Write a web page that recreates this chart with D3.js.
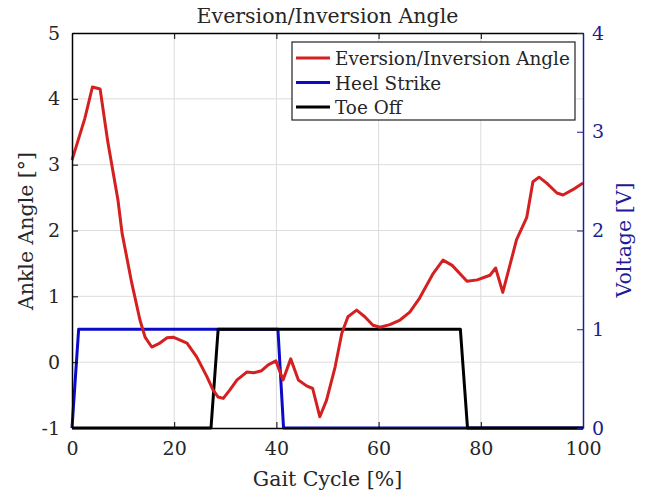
<!DOCTYPE html>
<html>
<head>
<meta charset="utf-8">
<script src="https://cdn.jsdelivr.net/npm/d3@7"></script>
<style>
  body { margin: 0; background: #fff; }
  svg text { font-family: "DejaVu Serif", serif; }
</style>
</head>
<body>
<div id="chart"></div>
<script>
// Gait cycle (%) and ankle eversion/inversion angle (deg)
const angleX = [0, 0.8, 2.5, 4, 5.5, 7, 9, 9.8, 11.7, 13.3, 14.3, 15.6, 17.2, 18.6, 19.8, 22.5, 24.4, 26.4, 27.6, 28.6, 29.6,
  30.9, 32.3, 34.2, 35.6, 37.1, 38.4, 39.9, 41.3, 42.8, 44.3, 45.9, 47.1, 48.5, 49.8, 51.5, 52.8, 54, 55.7, 57.3, 58.9, 60.3,
  62.2, 64.2, 66.1, 68, 70.7, 72.6, 74.4, 77.3, 79.3, 81.8, 82.9, 84.3, 87, 89, 90.2, 91.4, 92.9, 94.9, 96.1, 98, 100];
const angleY = [3.07, 3.27, 3.7, 4.18, 4.15, 3.35, 2.46, 1.96, 1.2, 0.64, 0.38, 0.23, 0.29, 0.37, 0.38, 0.29, 0.08, -0.22, -0.42, -0.53, -0.55,
  -0.42, -0.27, -0.15, -0.16, -0.13, -0.04, 0.02, -0.27, 0.05, -0.27, -0.36, -0.4, -0.83, -0.58, -0.07, 0.44, 0.69, 0.79, 0.69, 0.56, 0.53,
  0.57, 0.64, 0.76, 0.97, 1.35, 1.55, 1.47, 1.23, 1.25, 1.32, 1.43, 1.06, 1.86, 2.2, 2.74, 2.81, 2.72, 2.57, 2.54, 2.62, 2.72];

// Heel strike and toe off signals (V)
const heelX = [0, 1.3, 40.3, 41.4, 100];
const heelY = [0, 1, 1, 0, 0];
const toeX = [0, 27.2, 28.6, 76, 77.4, 100];
const toeY = [0, 0, 1, 1, 0, 0];

const xTicks = [0, 20, 40, 60, 80, 100];
const yTicks = [-1, 0, 1, 2, 3, 4, 5];
const vTicks = [0, 1, 2, 3, 4];

const legendLabels = ["Eversion/Inversion Angle", "Heel Strike", "Toe Off"];

const red = "#d42020", blue = "#0a0ac8", black = "#000", navy = "#1c1c96", ink = "#262626";

const W = 654, H = 497;
const margin = { top: 33, right: 71, bottom: 69, left: 72 };
const width = W - margin.left - margin.right;
const height = H - margin.top - margin.bottom;

const svg = d3.select("#chart").append("svg")
  .attr("width", W).attr("height", H);
const g = svg.append("g").attr("transform", `translate(${margin.left},${margin.top})`);

const x = d3.scaleLinear().domain([0, 100]).range([0, width]);
const y = d3.scaleLinear().domain([-1, 5]).range([height, 0]);
const yv = d3.scaleLinear().domain([0, 4]).range([height, 0]);

// grid
g.append("g").selectAll("line").data(xTicks.slice(1, -1)).join("line")
  .attr("x1", d => x(d)).attr("x2", d => x(d)).attr("y1", 0).attr("y2", height)
  .attr("stroke", "#dcdcdc").attr("stroke-width", 1);
g.append("g").selectAll("line").data(yTicks.slice(1, -1)).join("line")
  .attr("y1", d => y(d)).attr("y2", d => y(d)).attr("x1", 0).attr("x2", width)
  .attr("stroke", "#dcdcdc").attr("stroke-width", 1);

const line = (xs, ys, sy) => d3.line().x((d, i) => x(xs[i])).y(d => sy(d))(ys);

// signals
g.append("path").attr("d", line(heelX, heelY, yv)).attr("fill", "none")
  .attr("stroke", blue).attr("stroke-width", 3).attr("stroke-linejoin", "round");
g.append("path").attr("d", line(toeX, toeY, yv)).attr("fill", "none")
  .attr("stroke", black).attr("stroke-width", 3).attr("stroke-linejoin", "round");
// angle
g.append("path").attr("d", line(angleX, angleY, y)).attr("fill", "none")
  .attr("stroke", red).attr("stroke-width", 3).attr("stroke-linejoin", "round");

// axes
const fs = "19px";
const fmt = d => String(d);
const xAxis = g.append("g").attr("transform", `translate(0,${height})`)
  .call(d3.axisBottom(x).tickValues(xTicks).tickFormat(fmt).tickSizeInner(-6).tickSizeOuter(0).tickPadding(14));
const xTop = g.append("g")
  .call(d3.axisTop(x).tickValues(xTicks).tickSizeInner(-6).tickSizeOuter(0).tickFormat(""));
const yAxis = g.append("g")
  .call(d3.axisLeft(y).tickValues(yTicks).tickFormat(fmt).tickSizeInner(-6).tickSizeOuter(0).tickPadding(12));
const vAxis = g.append("g").attr("transform", `translate(${width},0)`)
  .call(d3.axisRight(yv).tickValues(vTicks).tickFormat(fmt).tickSizeInner(-6).tickSizeOuter(0).tickPadding(9));

[xAxis, xTop, yAxis, vAxis].forEach(a => a.attr("font-family", null));
[xAxis, xTop, yAxis].forEach(a => {
  a.selectAll("path").attr("stroke", black).attr("stroke-width", 1.5);
  a.selectAll("line").attr("stroke", black).attr("stroke-width", 1);
  a.selectAll("text").style("font-size", fs).attr("fill", ink);
});
vAxis.selectAll("path").attr("stroke", navy).attr("stroke-width", 1.5);
vAxis.selectAll("line").attr("stroke", navy).attr("stroke-width", 1);
vAxis.selectAll("text").style("font-size", fs).attr("fill", navy);

// title & labels
svg.append("text").attr("x", margin.left + width / 2).attr("y", 23)
  .attr("text-anchor", "middle").style("font-size", "20.5px")
  .attr("fill", ink).text("Eversion/Inversion Angle");
svg.append("text").attr("x", margin.left + width / 2).attr("y", 486)
  .attr("text-anchor", "middle").style("font-size", "20.5px")
  .attr("fill", ink).text("Gait Cycle [%]");
svg.append("text").attr("transform", `translate(33,231) rotate(-90)`)
  .attr("text-anchor", "middle").style("font-size", "20.5px")
  .attr("fill", ink).text("Ankle Angle [°]");
svg.append("text").attr("transform", `translate(631,240) rotate(-90)`)
  .attr("text-anchor", "middle").style("font-size", "20.5px")
  .attr("fill", navy).text("Voltage [V]");

// legend
const lg = svg.append("g").attr("transform", "translate(292,42)");
lg.append("rect").attr("width", 283).attr("height", 78)
  .attr("fill", "#fff").attr("stroke", "#222").attr("stroke-width", 1.2);
const colors = [red, blue, black];
legendLabels.forEach((t, i) => {
  const yy = 16 + i * 24.5;
  lg.append("line").attr("x1", 4).attr("x2", 38).attr("y1", yy).attr("y2", yy)
    .attr("stroke", colors[i]).attr("stroke-width", 3);
  lg.append("text").attr("x", 43).attr("y", yy + 7).style("font-size", "18.4px")
    .attr("fill", ink).text(t);
});
</script>
</body>
</html>
